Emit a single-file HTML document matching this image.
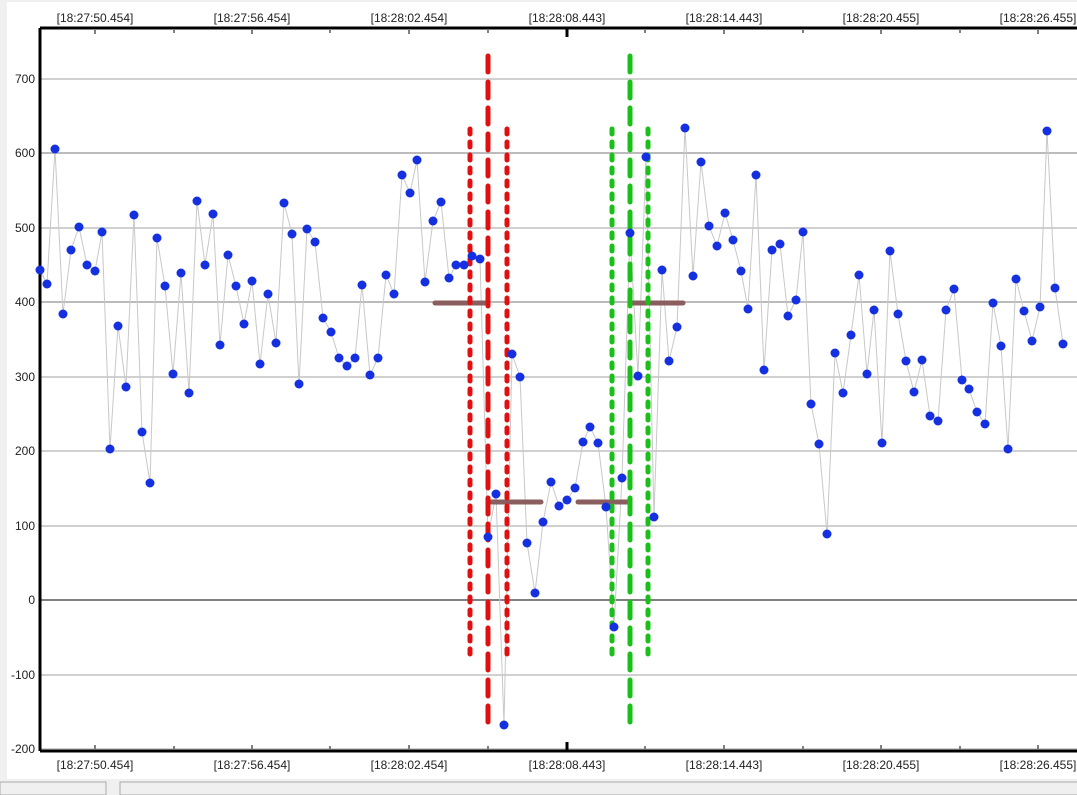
<!DOCTYPE html>
<html><head><style>
body{margin:0;width:1077px;height:795px;background:#f0f0f0;overflow:hidden;font-family:"Liberation Sans",sans-serif}
</style></head><body>
<svg width="1077" height="795" xmlns="http://www.w3.org/2000/svg" style="position:absolute;left:0;top:0">
<rect x="7" y="2" width="1070" height="777" fill="#fff"/>
<rect x="0" y="782" width="106" height="13" fill="#f0f0f0" stroke="#aaa"/>
<rect x="120" y="782" width="960" height="13" fill="#f0f0f0" stroke="#aaa"/>
<g stroke="#d0d0d0" stroke-width="2">
<line x1="40" x2="1077" y1="79" y2="79"/><line x1="40" x2="1077" y1="153" y2="153" stroke="#bbb"/>
<line x1="40" x2="1077" y1="228" y2="228"/><line x1="40" x2="1077" y1="302" y2="302" stroke="#bbb"/>
<line x1="40" x2="1077" y1="377" y2="377"/><line x1="40" x2="1077" y1="451" y2="451"/>
<line x1="40" x2="1077" y1="526" y2="526"/><line x1="40" x2="1077" y1="675" y2="675"/>
<line x1="40" x2="1077" y1="749" y2="749"/>
</g>
<line x1="40" x2="1077" y1="600" y2="600" stroke="#808080" stroke-width="2"/>
<g font-size="12" fill="#222" text-anchor="end">
<text x="35" y="83">700</text><text x="35" y="157">600</text><text x="35" y="232">500</text><text x="35" y="306">400</text><text x="35" y="381">300</text><text x="35" y="455">200</text><text x="35" y="530">100</text><text x="35" y="604">0</text><text x="35" y="679">-100</text><text x="35" y="753">-200</text>
</g>
<g font-size="12" fill="#222" text-anchor="middle">
<text x="95" y="22">[18:27:50.454]</text><text x="252" y="22">[18:27:56.454]</text><text x="409" y="22">[18:28:02.454]</text><text x="567" y="22">[18:28:08.443]</text><text x="724" y="22">[18:28:14.443]</text><text x="881" y="22">[18:28:20.455]</text><text x="1038" y="22">[18:28:26.455]</text>
<text x="95" y="769">[18:27:50.454]</text><text x="252" y="769">[18:27:56.454]</text><text x="409" y="769">[18:28:02.454]</text><text x="567" y="769">[18:28:08.443]</text><text x="724" y="769">[18:28:14.443]</text><text x="881" y="769">[18:28:20.455]</text><text x="1038" y="769">[18:28:26.455]</text>
</g>
<g stroke="#808080" stroke-width="2">
<path d="M95 30v4M174 30v3M252 30v4M330 30v3M409 30v4M488 30v3M645 30v3M724 30v4M803 30v3M881 30v4M960 30v3M1038 30v4"/>
<path d="M95 749v-4M174 749v-3M252 749v-4M330 749v-3M409 749v-4M488 749v-3M645 749v-3M724 749v-4M803 749v-3M881 749v-4M960 749v-3M1038 749v-4"/>
</g>
<path d="M567 28v9M567 751v-9" stroke="#000" stroke-width="3"/>
<path d="M40 28H1077M40 28V751M40 751H1077" stroke="#000" stroke-width="3" fill="none"/>
<polyline id="ln" fill="none" stroke="#c8c8c8" stroke-width="1" points=""/>
<g stroke="#8a5e5e" stroke-width="5" stroke-linecap="round">
<line x1="435" x2="487" y1="303" y2="303"/><line x1="491" x2="541" y1="502" y2="502"/><line x1="578" x2="629" y1="502" y2="502"/><line x1="631" x2="683" y1="303" y2="303"/>
</g>
<g stroke-width="5" stroke-linecap="round" fill="none">
<g stroke="#e01010">
<line x1="470" x2="470" y1="129" y2="660" stroke-dasharray="5,8"/><line x1="507" x2="507" y1="129" y2="660" stroke-dasharray="5,8"/>
<line x1="488" x2="488" y1="56" y2="725" stroke-dasharray="16,10"/>
</g>
<g stroke="#18c018">
<line x1="612" x2="612" y1="129" y2="660" stroke-dasharray="5,8"/><line x1="648" x2="648" y1="129" y2="660" stroke-dasharray="5,8"/>
<line x1="630" x2="630" y1="56" y2="725" stroke-dasharray="16,10"/>
</g>
</g>
<g fill="#1530e0" id="pts"></g>
</svg>
<script>
var p="40,270 47,284 55,149 63,314 71,250 79,227 87,265 95,271 102,232 110,449 118,326 126,387 134,215 142,432 150,483 157,238 165,286 173,374 181,273 189,393 197,201 205,265 213,214 220,345 228,255 236,286 244,324 252,281 260,364 268,294 276,343 284,203 292,234 299,384 307,229 315,242 323,318 331,332 339,358 347,366 355,358 362,285 370,375 378,358 386,275 394,294 402,175 410,193 417,160 425,282 433,221 441,202 449,278 456,265 464,265 472,256 480,259 488,537 496,494 504,725 512,354 520,377 527,543 535,593 543,522 551,482 559,506 567,500 575,488 583,442 590,427 598,443 606,507 614,627 622,478 630,233 638,376 646,157 654,517 662,270 669,361 677,327 685,128 693,276 701,162 709,226 717,246 725,213 733,240 741,271 748,309 756,175 764,370 772,250 780,244 788,316 796,300 803,232 811,404 819,444 827,534 835,353 843,393 851,335 859,275 867,374 874,310 882,443 890,251 898,314 906,361 914,392 922,360 930,416 938,421 946,310 954,289 962,380 969,389 977,412 985,424 993,303 1001,346 1008,449 1016,279 1024,311 1032,341 1040,307 1047,131 1055,288 1063,344";
document.getElementById("ln").setAttribute("points",p);
var g=document.getElementById("pts"),h="";
p.split(" ").forEach(function(s){var a=s.split(",");h+='<circle cx="'+a[0]+'" cy="'+a[1]+'" r="4.5"/>';});
g.innerHTML=h;
</script>
</body></html>
